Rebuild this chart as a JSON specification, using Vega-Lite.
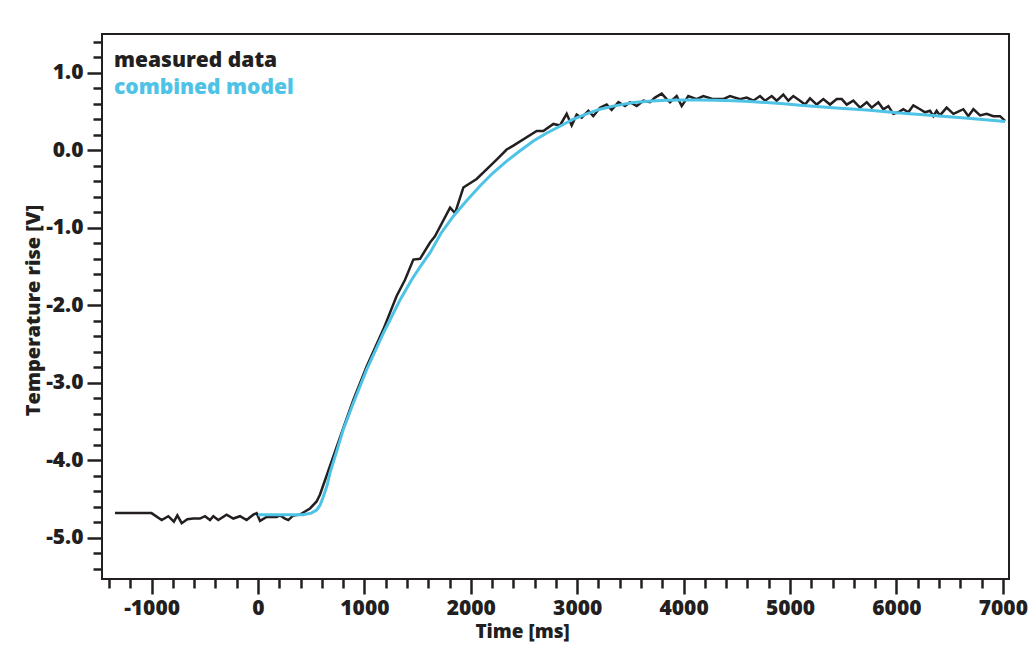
{
  "$schema": "https://vega.github.io/schema/vega-lite/v6.json",
  "width": 907,
  "height": 545,
  "autosize": "none",
  "padding": {"left": 102, "top": 34, "right": 22, "bottom": 80},
  "background": "white",
  "config": {
    "font": "Open Sans",
    "view": {"stroke": "#231f20", "strokeWidth": 2},
    "axis": {
      "labelFont": "Open Sans", "labelFontWeight": 800, "labelFontSize": 21, "labelColor": "#231f20",
      "titleFont": "Open Sans", "titleFontWeight": 800, "titleFontSize": 20, "titleColor": "#231f20",
      "tickColor": "#231f20", "tickWidth": 2.5, "domain": false, "grid": false
    }
  },
  "data": {
    "values": [
      {"t": -1344, "v": -4.68, "s": "measured data"},
      {"t": -1001, "v": -4.68, "s": "measured data"},
      {"t": -905, "v": -4.77, "s": "measured data"},
      {"t": -843, "v": -4.72, "s": "measured data"},
      {"t": -790, "v": -4.79, "s": "measured data"},
      {"t": -758, "v": -4.71, "s": "measured data"},
      {"t": -717, "v": -4.81, "s": "measured data"},
      {"t": -664, "v": -4.76, "s": "measured data"},
      {"t": -608, "v": -4.75, "s": "measured data"},
      {"t": -545, "v": -4.75, "s": "measured data"},
      {"t": -498, "v": -4.72, "s": "measured data"},
      {"t": -451, "v": -4.77, "s": "measured data"},
      {"t": -420, "v": -4.72, "s": "measured data"},
      {"t": -373, "v": -4.77, "s": "measured data"},
      {"t": -295, "v": -4.70, "s": "measured data"},
      {"t": -232, "v": -4.75, "s": "measured data"},
      {"t": -169, "v": -4.72, "s": "measured data"},
      {"t": -107, "v": -4.77, "s": "measured data"},
      {"t": -44, "v": -4.70, "s": "measured data"},
      {"t": -13, "v": -4.68, "s": "measured data"},
      {"t": 19, "v": -4.78, "s": "measured data"},
      {"t": 81, "v": -4.73, "s": "measured data"},
      {"t": 175, "v": -4.73, "s": "measured data"},
      {"t": 207, "v": -4.71, "s": "measured data"},
      {"t": 254, "v": -4.75, "s": "measured data"},
      {"t": 285, "v": -4.77, "s": "measured data"},
      {"t": 332, "v": -4.71, "s": "measured data"},
      {"t": 395, "v": -4.70, "s": "measured data"},
      {"t": 442, "v": -4.66, "s": "measured data"},
      {"t": 489, "v": -4.62, "s": "measured data"},
      {"t": 551, "v": -4.53, "s": "measured data"},
      {"t": 583, "v": -4.44, "s": "measured data"},
      {"t": 708, "v": -3.95, "s": "measured data"},
      {"t": 802, "v": -3.58, "s": "measured data"},
      {"t": 896, "v": -3.22, "s": "measured data"},
      {"t": 1021, "v": -2.79, "s": "measured data"},
      {"t": 1178, "v": -2.31, "s": "measured data"},
      {"t": 1303, "v": -1.88, "s": "measured data"},
      {"t": 1382, "v": -1.67, "s": "measured data"},
      {"t": 1460, "v": -1.41, "s": "measured data"},
      {"t": 1523, "v": -1.40, "s": "measured data"},
      {"t": 1617, "v": -1.19, "s": "measured data"},
      {"t": 1663, "v": -1.11, "s": "measured data"},
      {"t": 1805, "v": -0.74, "s": "measured data"},
      {"t": 1852, "v": -0.81, "s": "measured data"},
      {"t": 1930, "v": -0.48, "s": "measured data"},
      {"t": 2055, "v": -0.37, "s": "measured data"},
      {"t": 2243, "v": -0.12, "s": "measured data"},
      {"t": 2337, "v": 0.01, "s": "measured data"},
      {"t": 2400, "v": 0.06, "s": "measured data"},
      {"t": 2619, "v": 0.25, "s": "measured data"},
      {"t": 2682, "v": 0.25, "s": "measured data"},
      {"t": 2776, "v": 0.34, "s": "measured data"},
      {"t": 2838, "v": 0.32, "s": "measured data"},
      {"t": 2901, "v": 0.47, "s": "measured data"},
      {"t": 2948, "v": 0.32, "s": "measured data"},
      {"t": 2995, "v": 0.46, "s": "measured data"},
      {"t": 3042, "v": 0.42, "s": "measured data"},
      {"t": 3105, "v": 0.51, "s": "measured data"},
      {"t": 3151, "v": 0.44, "s": "measured data"},
      {"t": 3214, "v": 0.55, "s": "measured data"},
      {"t": 3277, "v": 0.59, "s": "measured data"},
      {"t": 3324, "v": 0.52, "s": "measured data"},
      {"t": 3387, "v": 0.62, "s": "measured data"},
      {"t": 3449, "v": 0.57, "s": "measured data"},
      {"t": 3496, "v": 0.62, "s": "measured data"},
      {"t": 3559, "v": 0.57, "s": "measured data"},
      {"t": 3622, "v": 0.64, "s": "measured data"},
      {"t": 3684, "v": 0.62, "s": "measured data"},
      {"t": 3731, "v": 0.68, "s": "measured data"},
      {"t": 3794, "v": 0.73, "s": "measured data"},
      {"t": 3841, "v": 0.66, "s": "measured data"},
      {"t": 3872, "v": 0.62, "s": "measured data"},
      {"t": 3935, "v": 0.70, "s": "measured data"},
      {"t": 3982, "v": 0.57, "s": "measured data"},
      {"t": 4044, "v": 0.70, "s": "measured data"},
      {"t": 4123, "v": 0.66, "s": "measured data"},
      {"t": 4185, "v": 0.70, "s": "measured data"},
      {"t": 4279, "v": 0.66, "s": "measured data"},
      {"t": 4373, "v": 0.66, "s": "measured data"},
      {"t": 4436, "v": 0.70, "s": "measured data"},
      {"t": 4530, "v": 0.66, "s": "measured data"},
      {"t": 4593, "v": 0.68, "s": "measured data"},
      {"t": 4655, "v": 0.64, "s": "measured data"},
      {"t": 4718, "v": 0.70, "s": "measured data"},
      {"t": 4765, "v": 0.64, "s": "measured data"},
      {"t": 4828, "v": 0.70, "s": "measured data"},
      {"t": 4875, "v": 0.64, "s": "measured data"},
      {"t": 4937, "v": 0.72, "s": "measured data"},
      {"t": 4984, "v": 0.64, "s": "measured data"},
      {"t": 5031, "v": 0.70, "s": "measured data"},
      {"t": 5094, "v": 0.64, "s": "measured data"},
      {"t": 5141, "v": 0.59, "s": "measured data"},
      {"t": 5188, "v": 0.67, "s": "measured data"},
      {"t": 5251, "v": 0.59, "s": "measured data"},
      {"t": 5313, "v": 0.66, "s": "measured data"},
      {"t": 5376, "v": 0.59, "s": "measured data"},
      {"t": 5439, "v": 0.66, "s": "measured data"},
      {"t": 5486, "v": 0.66, "s": "measured data"},
      {"t": 5533, "v": 0.59, "s": "measured data"},
      {"t": 5595, "v": 0.64, "s": "measured data"},
      {"t": 5658, "v": 0.55, "s": "measured data"},
      {"t": 5721, "v": 0.62, "s": "measured data"},
      {"t": 5768, "v": 0.55, "s": "measured data"},
      {"t": 5830, "v": 0.62, "s": "measured data"},
      {"t": 5877, "v": 0.53, "s": "measured data"},
      {"t": 5924, "v": 0.57, "s": "measured data"},
      {"t": 5971, "v": 0.47, "s": "measured data"},
      {"t": 6018, "v": 0.49, "s": "measured data"},
      {"t": 6065, "v": 0.53, "s": "measured data"},
      {"t": 6112, "v": 0.49, "s": "measured data"},
      {"t": 6159, "v": 0.58, "s": "measured data"},
      {"t": 6222, "v": 0.53, "s": "measured data"},
      {"t": 6269, "v": 0.49, "s": "measured data"},
      {"t": 6316, "v": 0.51, "s": "measured data"},
      {"t": 6347, "v": 0.44, "s": "measured data"},
      {"t": 6378, "v": 0.51, "s": "measured data"},
      {"t": 6409, "v": 0.45, "s": "measured data"},
      {"t": 6472, "v": 0.55, "s": "measured data"},
      {"t": 6535, "v": 0.47, "s": "measured data"},
      {"t": 6566, "v": 0.49, "s": "measured data"},
      {"t": 6629, "v": 0.53, "s": "measured data"},
      {"t": 6676, "v": 0.44, "s": "measured data"},
      {"t": 6723, "v": 0.53, "s": "measured data"},
      {"t": 6786, "v": 0.45, "s": "measured data"},
      {"t": 6848, "v": 0.47, "s": "measured data"},
      {"t": 6911, "v": 0.44, "s": "measured data"},
      {"t": 6974, "v": 0.44, "s": "measured data"},
      {"t": 7021, "v": 0.38, "s": "measured data"},
      {"t": 0, "v": -4.70, "s": "combined model"},
      {"t": 420, "v": -4.70, "s": "combined model"},
      {"t": 500, "v": -4.68, "s": "combined model"},
      {"t": 551, "v": -4.64, "s": "combined model"},
      {"t": 583, "v": -4.58, "s": "combined model"},
      {"t": 614, "v": -4.47, "s": "combined model"},
      {"t": 650, "v": -4.32, "s": "combined model"},
      {"t": 677, "v": -4.16, "s": "combined model"},
      {"t": 740, "v": -3.88, "s": "combined model"},
      {"t": 802, "v": -3.60, "s": "combined model"},
      {"t": 896, "v": -3.26, "s": "combined model"},
      {"t": 1021, "v": -2.83, "s": "combined model"},
      {"t": 1178, "v": -2.36, "s": "combined model"},
      {"t": 1335, "v": -1.93, "s": "combined model"},
      {"t": 1444, "v": -1.67, "s": "combined model"},
      {"t": 1530, "v": -1.49, "s": "combined model"},
      {"t": 1617, "v": -1.32, "s": "combined model"},
      {"t": 1720, "v": -1.07, "s": "combined model"},
      {"t": 1836, "v": -0.85, "s": "combined model"},
      {"t": 1960, "v": -0.65, "s": "combined model"},
      {"t": 2086, "v": -0.46, "s": "combined model"},
      {"t": 2210, "v": -0.29, "s": "combined model"},
      {"t": 2337, "v": -0.14, "s": "combined model"},
      {"t": 2460, "v": -0.01, "s": "combined model"},
      {"t": 2588, "v": 0.12, "s": "combined model"},
      {"t": 2710, "v": 0.22, "s": "combined model"},
      {"t": 2838, "v": 0.31, "s": "combined model"},
      {"t": 2960, "v": 0.40, "s": "combined model"},
      {"t": 3089, "v": 0.47, "s": "combined model"},
      {"t": 3214, "v": 0.53, "s": "combined model"},
      {"t": 3339, "v": 0.57, "s": "combined model"},
      {"t": 3527, "v": 0.615, "s": "combined model"},
      {"t": 3700, "v": 0.635, "s": "combined model"},
      {"t": 3841, "v": 0.645, "s": "combined model"},
      {"t": 4000, "v": 0.65, "s": "combined model"},
      {"t": 4154, "v": 0.65, "s": "combined model"},
      {"t": 4300, "v": 0.645, "s": "combined model"},
      {"t": 4467, "v": 0.64, "s": "combined model"},
      {"t": 4620, "v": 0.63, "s": "combined model"},
      {"t": 4781, "v": 0.615, "s": "combined model"},
      {"t": 4940, "v": 0.60, "s": "combined model"},
      {"t": 5094, "v": 0.58, "s": "combined model"},
      {"t": 5400, "v": 0.55, "s": "combined model"},
      {"t": 5721, "v": 0.52, "s": "combined model"},
      {"t": 6034, "v": 0.48, "s": "combined model"},
      {"t": 6347, "v": 0.45, "s": "combined model"},
      {"t": 6700, "v": 0.41, "s": "combined model"},
      {"t": 7021, "v": 0.37, "s": "combined model"}
    ]
  },
  "layer": [
    {
      "transform": [{"filter": "datum.s == 'measured data'"}],
      "mark": {"type": "line", "strokeWidth": 2.5, "strokeJoin": "miter", "clip": true},
      "encoding": {
        "x": {
          "field": "t", "type": "quantitative",
          "scale": {"domain": [-1466, 7058], "nice": false, "zero": false},
          "axis": {
            "orient": "bottom", "title": "Time [ms]",
            "values": [-1000, 0, 1000, 2000, 3000, 4000, 5000, 6000, 7000],
            "tickSize": 15, "labelPadding": 3,
            "labelExpr": "datum.value < 0 ? '-' + format(-datum.value, 'd') : format(datum.value, 'd')",
            "titleX": 420, "titleY": 58, "titleFontSize": 19, "titleBaseline": "alphabetic"
          }
        },
        "y": {
          "field": "v", "type": "quantitative",
          "scale": {"domain": [-5.53, 1.5], "nice": false, "zero": false},
          "axis": {
            "orient": "left", "title": "Temperature rise [V]",
            "values": [-5, -4, -3, -2, -1, 0, 1],
            "tickSize": 15, "labelPadding": 4,
            "labelExpr": "datum.value < 0 ? '-' + format(-datum.value, '.1f') : format(datum.value, '.1f')",
            "titleX": -63, "titleY": 276, "titleAngle": -90, "titleBaseline": "alphabetic"
          }
        },
        "color": {
          "field": "s", "type": "nominal",
          "scale": {"domain": ["measured data", "combined model"], "range": ["#231f20", "#4ec3e6"]},
          "legend": {
            "orient": "none", "legendX": -9, "legendY": 16, "title": null,
            "symbolSize": 0, "symbolStrokeWidth": 0, "symbolOpacity": 0, "labelOffset": 0,
            "padding": 0, "rowPadding": 5, "labelLimit": 0,
            "labelFont": "Open Sans", "labelFontWeight": 800, "labelFontSize": 21,
            "labelColor": {"expr": "datum.label == 'combined model' ? '#4ec3e6' : '#231f20'"}
          }
        }
      }
    },
    {
      "transform": [{"filter": "datum.s == 'combined model'"}],
      "mark": {"type": "line", "strokeWidth": 3, "clip": true},
      "encoding": {
        "x": {
          "field": "t", "type": "quantitative",
          "axis": {
            "orient": "bottom", "title": null, "labels": false,
            "values": [-1400, -1200, -800, -600, -400, -200, 200, 400, 600, 800, 1200, 1400, 1600, 1800, 2200, 2400, 2600, 2800, 3200, 3400, 3600, 3800, 4200, 4400, 4600, 4800, 5200, 5400, 5600, 5800, 6200, 6400, 6600, 6800],
            "tickSize": 9
          }
        },
        "y": {
          "field": "v", "type": "quantitative",
          "axis": {
            "orient": "left", "title": null, "labels": false,
            "values": [-5.4, -5.2, -4.8, -4.6, -4.4, -4.2, -3.8, -3.6, -3.4, -3.2, -2.8, -2.6, -2.4, -2.2, -1.8, -1.6, -1.4, -1.2, -0.8, -0.6, -0.4, -0.2, 0.2, 0.4, 0.6, 0.8, 1.2, 1.4],
            "tickSize": 9
          }
        },
        "color": {"field": "s", "type": "nominal"}
      }
    }
  ],
  "resolve": {"axis": {"x": "independent", "y": "independent"}}
}
